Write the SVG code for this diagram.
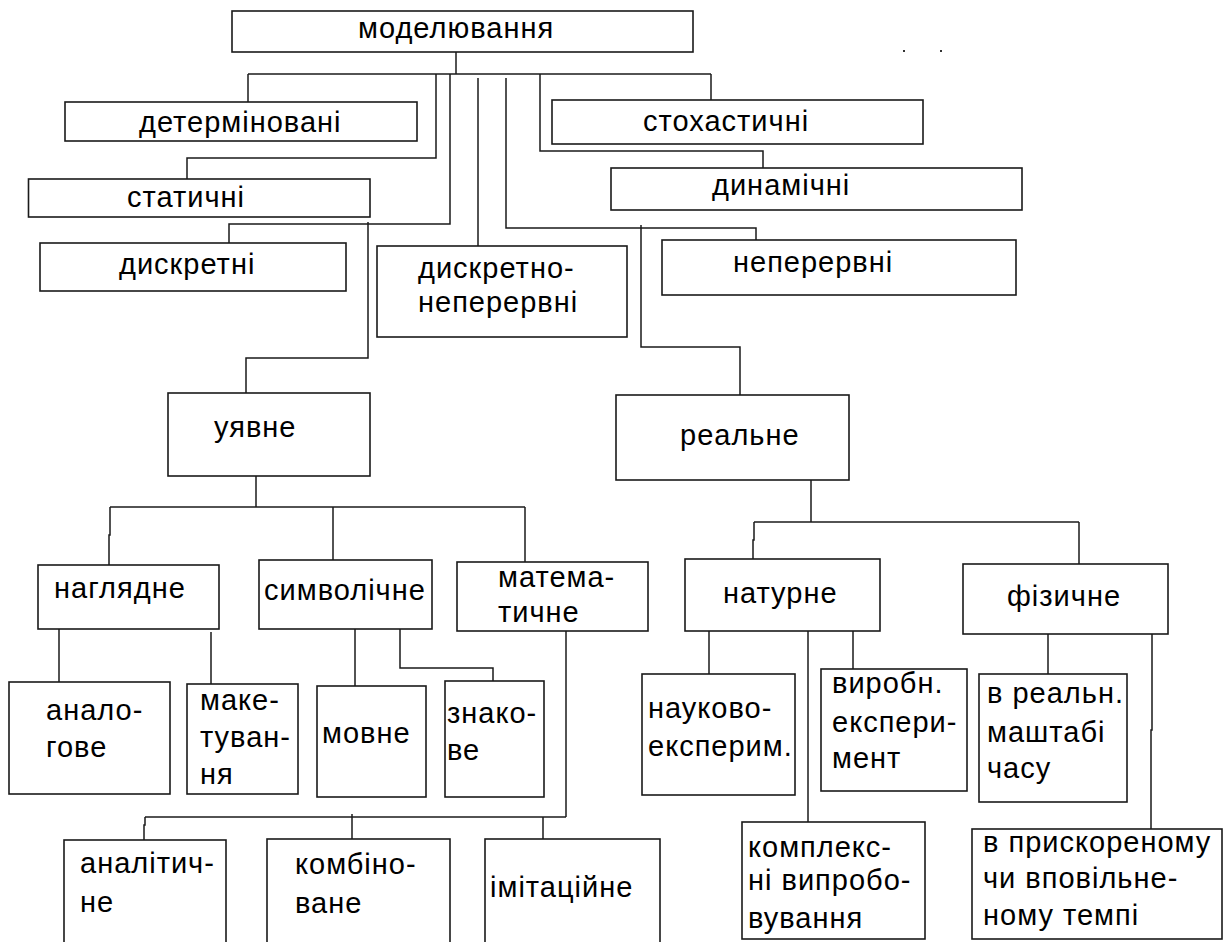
<svg xmlns="http://www.w3.org/2000/svg" width="1224" height="942" viewBox="0 0 1224 942">
  <style>
    .box { fill: #ffffff; stroke: #1a1a1a; stroke-width: 1.6; }
    .lbl { font-family: "Liberation Sans", Arial, sans-serif; font-size: 29px; letter-spacing: 1px; fill: #000000; }
    .ln { fill: none; stroke: #1a1a1a; stroke-width: 1.5; }
  </style>
  <rect width="1224" height="942" fill="#ffffff"/>

  <!-- connectors -->
  <g id="connectors" class="ln">
    <path d="M456 52 V74"/>
    <path d="M248 74 H711"/>
    <path d="M248 74 V102"/>
    <path d="M711 74 V100"/>
    <path d="M436 74 V158 H187 V179"/>
    <path d="M450 74 V224 H229 V243"/>
    <path d="M478 78 V246"/>
    <path d="M506 78 V228 H756 V240"/>
    <path d="M540 74 V151 H763 V168"/>
    <path d="M368 222 V358 H246 V393"/>
    <path d="M641 225 V347 H740 V395"/>
    <!-- уявне subtree -->
    <path d="M256 476 V507"/>
    <path d="M110 507 H525"/>
    <path d="M110 507 V535 H109 V565"/>
    <path d="M333 507 V562"/>
    <path d="M525 507 V562"/>
    <path d="M59 629 V682"/>
    <path d="M211 632 V686"/>
    <path d="M355 629 V686"/>
    <path d="M400 627 V668 H493 V681"/>
    <path d="M566 631 V817"/>
    <path d="M145 817 H566"/>
    <path d="M145 817 V825 H144 V840"/>
    <path d="M352 814 V839"/>
    <path d="M543 817 V839"/>
    <!-- реальне subtree -->
    <path d="M811 480 V522"/>
    <path d="M754 522 H1079"/>
    <path d="M754 522 V540 H753 V559"/>
    <path d="M1079 522 V564"/>
    <path d="M709 631 V674"/>
    <path d="M808 629 V822"/>
    <path d="M853 629 V669"/>
    <path d="M1048 634 V674"/>
    <path d="M1152 632 V730 H1151 V829"/>
  </g>

  <!-- small marks near the top right -->
  <g id="marks" fill="#333333">
    <rect x="903" y="50" width="2" height="2"/>
    <rect x="940" y="50" width="2" height="2"/>
  </g>

  <g id="n-modeliuvannia">
    <rect class="box" x="232" y="11" width="461" height="41"/>
    <text class="lbl" x="358" y="38">моделювання</text>
  </g>
  <g id="n-determinovani">
    <rect class="box" x="65" y="102" width="352" height="39"/>
    <text class="lbl" x="139" y="132">детерміновані</text>
  </g>
  <g id="n-stokhastychni">
    <rect class="box" x="552" y="100" width="371" height="44"/>
    <text class="lbl" x="643" y="131">стохастичні</text>
  </g>
  <g id="n-statychni">
    <rect class="box" x="28.5" y="179" width="341.5" height="38"/>
    <text class="lbl" x="127" y="207">статичні</text>
  </g>
  <g id="n-dynamichni">
    <rect class="box" x="611" y="168" width="411" height="42"/>
    <text class="lbl" x="712" y="195">динамічні</text>
  </g>
  <g id="n-dyskretni">
    <rect class="box" x="40" y="243" width="306" height="48"/>
    <text class="lbl" x="119" y="274">дискретні</text>
  </g>
  <g id="n-dyskretno-neperervni">
    <rect class="box" x="377" y="246" width="250" height="91"/>
    <text class="lbl" x="418" y="278">дискретно-</text>
    <text class="lbl" x="418" y="312">неперервні</text>
  </g>
  <g id="n-neperervni">
    <rect class="box" x="662" y="240" width="354" height="55"/>
    <text class="lbl" x="733" y="272">неперервні</text>
  </g>
  <g id="n-uiavne">
    <rect class="box" x="168" y="393" width="202" height="83"/>
    <text class="lbl" x="214" y="437">уявне</text>
  </g>
  <g id="n-realne">
    <rect class="box" x="616" y="395" width="233" height="85"/>
    <text class="lbl" x="680" y="445">реальне</text>
  </g>
  <g id="n-nahliadne">
    <rect class="box" x="38" y="565" width="181" height="64"/>
    <text class="lbl" x="54" y="598">наглядне</text>
  </g>
  <g id="n-symvolichne">
    <rect class="box" x="259" y="560" width="173" height="69"/>
    <text class="lbl" x="264" y="600">символічне</text>
  </g>
  <g id="n-matematychne">
    <rect class="box" x="457" y="562" width="191" height="69"/>
    <text class="lbl" x="498" y="587">матема-</text>
    <text class="lbl" x="498" y="622">тичне</text>
  </g>
  <g id="n-naturne">
    <rect class="box" x="685" y="559" width="195" height="72"/>
    <text class="lbl" x="723" y="603">натурне</text>
  </g>
  <g id="n-fizychne">
    <rect class="box" x="963" y="564" width="205" height="70"/>
    <text class="lbl" x="1007" y="606">фізичне</text>
  </g>
  <g id="n-analohove">
    <rect class="box" x="9" y="682" width="161" height="112"/>
    <text class="lbl" x="46" y="720">анало-</text>
    <text class="lbl" x="46" y="757">гове</text>
  </g>
  <g id="n-maketuvannia">
    <rect class="box" x="187" y="684" width="111" height="110"/>
    <text class="lbl" x="200" y="710">маке-</text>
    <text class="lbl" x="200" y="747">туван-</text>
    <text class="lbl" x="200" y="784">ня</text>
  </g>
  <g id="n-movne">
    <rect class="box" x="317" y="686" width="109" height="111"/>
    <text class="lbl" x="322" y="743">мовне</text>
  </g>
  <g id="n-znakove">
    <rect class="box" x="445" y="681" width="99" height="116"/>
    <text class="lbl" x="447" y="723">знако-</text>
    <text class="lbl" x="447" y="760">ве</text>
  </g>
  <g id="n-naukovo-eksperym">
    <rect class="box" x="642" y="674" width="153" height="121"/>
    <text class="lbl" x="648" y="718">науково-</text>
    <text class="lbl" x="648" y="756">експерим.</text>
  </g>
  <g id="n-vyrobn-eksperyment">
    <rect class="box" x="821" y="669" width="146" height="122"/>
    <text class="lbl" x="832" y="693">виробн.</text>
    <text class="lbl" x="832" y="732">експери-</text>
    <text class="lbl" x="832" y="768">мент</text>
  </g>
  <g id="n-v-realn-mashtabi">
    <rect class="box" x="979" y="674" width="148" height="128"/>
    <text class="lbl" x="987" y="703">в реальн.</text>
    <text class="lbl" x="987" y="742">маштабі</text>
    <text class="lbl" x="987" y="778">часу</text>
  </g>
  <g id="n-analitychne">
    <rect class="box" x="64" y="840" width="162" height="130"/>
    <text class="lbl" x="80" y="873">аналітич-</text>
    <text class="lbl" x="80" y="912">не</text>
  </g>
  <g id="n-kombinovane">
    <rect class="box" x="267" y="839" width="183" height="130"/>
    <text class="lbl" x="295" y="874">комбіно-</text>
    <text class="lbl" x="295" y="913">ване</text>
  </g>
  <g id="n-imitatsiine">
    <rect class="box" x="485" y="839" width="175" height="130"/>
    <text class="lbl" x="490" y="897">імітаційне</text>
  </g>
  <g id="n-kompleksni">
    <rect class="box" x="742" y="822" width="183" height="117"/>
    <text class="lbl" x="748" y="857">комплекс-</text>
    <text class="lbl" x="748" y="890">ні випробо-</text>
    <text class="lbl" x="748" y="928">вування</text>
  </g>
  <g id="n-pryskorenomu">
    <rect class="box" x="972" y="829" width="250" height="110"/>
    <text class="lbl" x="983" y="852">в прискореному</text>
    <text class="lbl" x="983" y="888">чи вповільне-</text>
    <text class="lbl" x="983" y="925">ному темпі</text>
  </g>
</svg>
